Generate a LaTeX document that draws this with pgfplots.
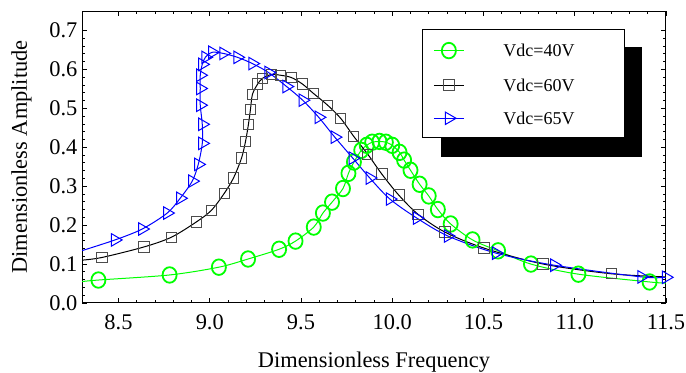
\documentclass[border=0pt]{standalone}
\usepackage{fontspec}
\setmainfont{Liberation Serif}
\usepackage{pgfplots}
\pgfplotsset{compat=1.18}
\pgfplotstableread{
x y
8.30 0.055
8.39 0.059
8.78 0.072
9.05 0.092
9.21 0.113
9.38 0.138
9.47 0.159
9.57 0.195
9.62 0.231
9.67 0.259
9.73 0.294
9.76 0.333
9.79 0.362
9.83 0.392
9.86 0.405
9.89 0.413
9.93 0.415
9.965 0.413
10.00 0.405
10.04 0.387
10.065 0.367
10.10 0.341
10.15 0.305
10.20 0.275
10.25 0.240
10.32 0.203
10.44 0.162
10.58 0.134
10.76 0.100
11.02 0.074
11.41 0.054
11.50 0.051
}\greendata
\pgfplotstableread{
x y
8.30 0.110
8.41 0.117
8.64 0.144
8.79 0.169
8.926 0.208
9.009 0.238
9.08 0.282
9.13 0.321
9.174 0.372
9.196 0.415
9.212 0.459
9.223 0.497
9.234 0.536
9.262 0.562
9.289 0.577
9.338 0.587
9.388 0.585
9.448 0.579
9.509 0.562
9.569 0.538
9.646 0.508
9.718 0.474
9.789 0.428
9.866 0.382
9.943 0.331
10.036 0.277
10.141 0.228
10.289 0.182
10.503 0.141
10.827 0.100
11.201 0.075
11.50 0.067
}\blackdata
\pgfplotstableread{
x y
8.29 0.133
8.481 0.162
8.630 0.190
8.767 0.231
8.838 0.269
8.904 0.313
8.937 0.356
8.959 0.410
8.959 0.459
8.948 0.508
8.948 0.551
8.948 0.585
8.959 0.613
8.976 0.631
9.014 0.644
9.075 0.641
9.152 0.631
9.234 0.615
9.322 0.592
9.421 0.556
9.509 0.521
9.597 0.477
9.685 0.426
9.784 0.372
9.877 0.321
9.987 0.267
10.135 0.218
10.305 0.172
10.569 0.128
10.888 0.097
11.366 0.067
11.50 0.066
}\bluedata
\begin{document}
\begin{tikzpicture}
\begin{axis}[
  scale only axis, width=292pt, height=146pt,
  xmin=8.3, xmax=11.5, ymin=0, ymax=0.75,
  xtick={8.5,9.0,9.5,10.0,10.5,11.0,11.5},
  ytick={0,0.1,0.2,0.3,0.4,0.5,0.6,0.7},
  minor x tick num=4, minor y tick num=4,
  tick align=inside, major tick length=2.6pt, minor tick length=1.5pt,
  every tick/.style={black, line width=0.4pt},
  axis line style={black, line width=0.5pt},
  /pgf/number format/assume math mode=true,
  xticklabel style={/pgf/number format/.cd, fixed, fixed zerofill, precision=1, /tikz/.cd, yshift=-2.5pt},
  yticklabel style={/pgf/number format/.cd, fixed, fixed zerofill, precision=1, /tikz/.cd, xshift=1.2pt},
  tick label style={font=\fontsize{11.2}{13}\selectfont},
  xlabel={Dimensionless Frequency},
  ylabel={Dimensionless Amplitude},
  every axis x label/.style={at={([yshift=-32.5pt]axis description cs:0.5,0)}, anchor=base, font=\fontsize{11.2}{13}\selectfont},
  every axis y label/.style={at={([xshift=-27.5pt]axis description cs:0,0.5)}, rotate=90, anchor=base, font=\fontsize{11.2}{13}\selectfont},
  legend cell align=left,
  legend image code/.code={\draw[mark repeat=2,mark phase=2] plot coordinates {(0pt,0pt) (7.5pt,0pt) (15pt,0pt)};},
  legend style={at={(0.582,0.938)}, anchor=north west, draw=black, line width=0.5pt, fill=white,
    font=\fontsize{9}{10}\selectfont,
    inner xsep=5.5pt, inner ysep=6.6pt, row sep=10.3pt, column sep=19.5pt,
    nodes={inner sep=0pt, text depth=0pt, text width=55pt, align=left}},
]
% legend shadow (drawn under the legend box)
\fill[black] (rel axis cs:0.6147,0.500) rectangle (rel axis cs:0.9589,0.8767);
% lines
\addplot[green, line width=0.5pt, smooth, forget plot] table {\greendata};
\addplot[black, line width=0.5pt, smooth, forget plot] table {\blackdata};
\addplot[blue, line width=0.5pt, smooth, forget plot] table {\bluedata};
% markers
\addplot[green, only marks, mark=o, mark size=3.7pt, mark indices={2,...,31},
  mark options={xscale=0.95, yscale=1.05, line width=0.9pt}, forget plot] table {\greendata};
\addplot[black!70, only marks, mark=square, mark size=2.6pt, mark indices={2,...,31},
  mark options={line width=0.5pt}, forget plot] table {\blackdata};
\addplot[blue, only marks, mark=triangle, mark size=3.6pt, mark indices={1,...,31},
  mark options={rotate=-90, line width=0.5pt}, forget plot] table {\bluedata};
% legend
\addlegendimage{green, line width=0.5pt, mark=o, mark size=3.7pt, mark options={xscale=0.95, yscale=1.05, line width=0.9pt}}
\addlegendentry{Vdc=40V}
\addlegendimage{black, line width=0.5pt, mark=square, mark size=2.6pt, mark options={draw=black!70}}
\addlegendentry{Vdc=60V}
\addlegendimage{blue, line width=0.5pt, mark=triangle, mark size=3.6pt, mark options={rotate=-90}}
\addlegendentry{Vdc=65V}
\end{axis}
\pgfresetboundingbox
\path[use as bounding box] (-41pt,-35pt) rectangle (302pt,151.5pt);
\end{tikzpicture}
\end{document}
